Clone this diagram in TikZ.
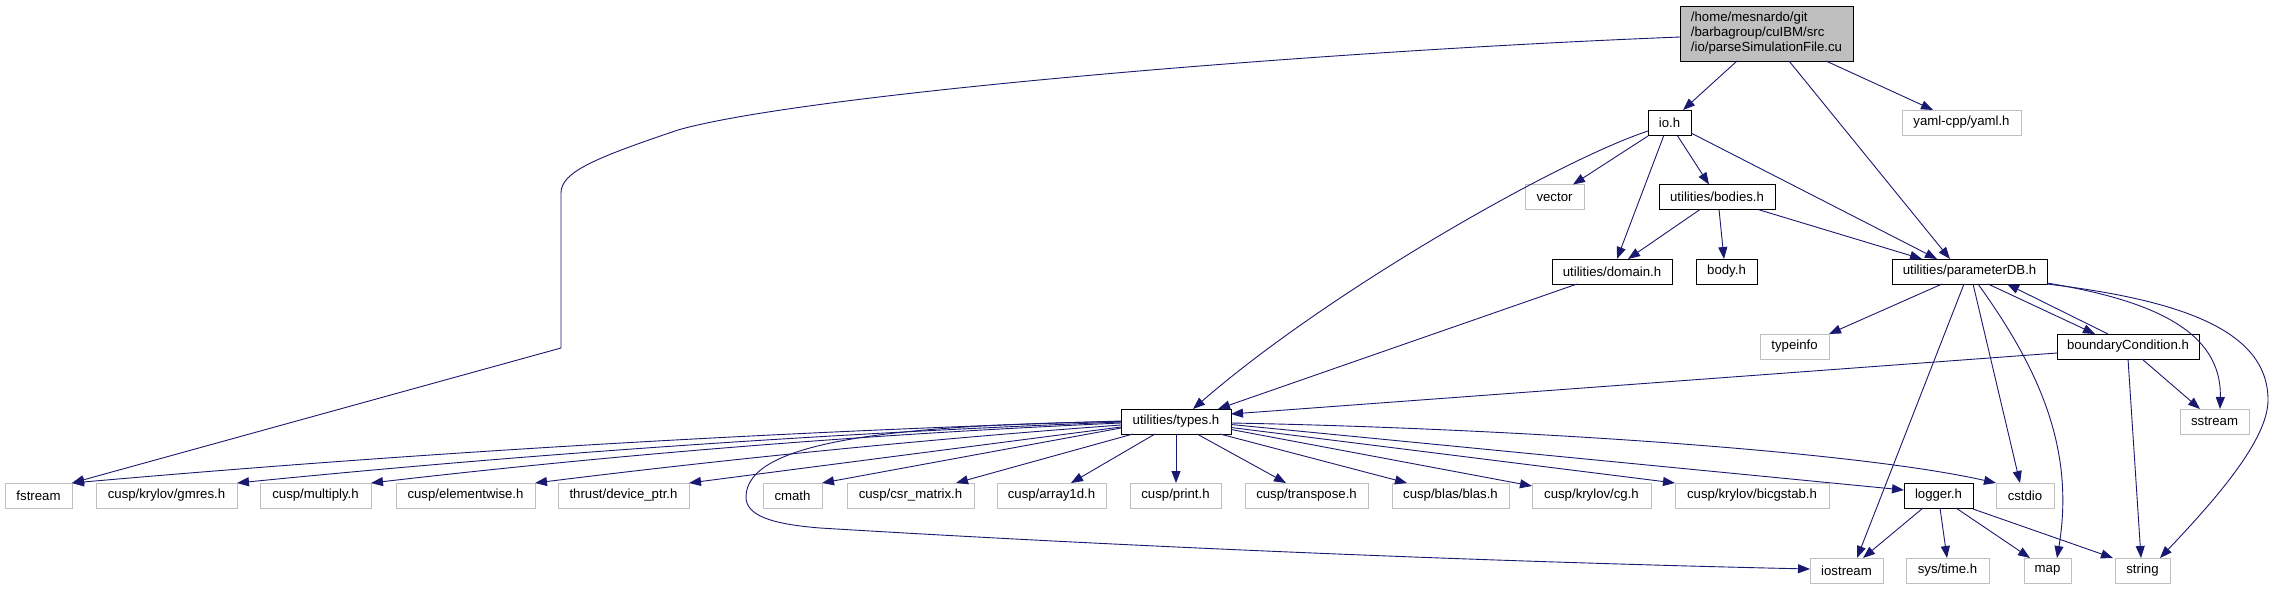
\documentclass[tikz,border=0pt]{standalone}
\usepackage{fontspec}
\setmainfont{Liberation Sans}
\usetikzlibrary{arrows.meta,calc}
\definecolor{edgeblue}{HTML}{191970}
\definecolor{lgray}{HTML}{BFBFBF}
\begin{document}
\begin{tikzpicture}[x=1pt,y=-1pt,
  doc/.style={draw=black,line width=1pt,fill=white,inner sep=0pt,outer sep=0pt,
    minimum height=25pt,font=\fontsize{13.2}{15}\selectfont},
  ext/.style={doc,draw=lgray},
  bw/.style={minimum width=#1},
  dep/.style={draw=edgeblue,line width=0.9pt,-{Triangle[length=12pt,width=9pt]}}]
\fill[white] (0,0) rectangle (2275,589);
\useasboundingbox (0,0) rectangle (2275,589);
% nodes
\node[doc,bw=173pt,minimum height=55pt,fill=lgray,align=left] (root) at (1766.5,33.5)
  {/home/mesnardo/git\\/barbagroup/cuIBM/src\\/io/parseSimulationFile.cu};
\node[doc,bw=43pt] (io) at (1669.5,122.5) {io.h};
\node[ext,bw=119pt] (yaml) at (1961.5,122.5) {yaml-cpp/yaml.h};
\node[ext,bw=59pt] (vector) at (1554.5,197) {vector};
\node[doc,bw=116pt] (bodies) at (1717,197) {utilities/bodies.h};
\node[doc,bw=120pt] (domain) at (1612,271.5) {utilities/domain.h};
\node[doc,bw=61pt] (body) at (1726.5,271.5) {body.h};
\node[doc,bw=155pt] (pdb) at (1969.5,271.5) {utilities/parameterDB.h};
\node[ext,bw=69pt] (typeinfo) at (1794.5,346.5) {typeinfo};
\node[doc,bw=142pt] (bc) at (2128,346.5) {boundaryCondition.h};
\node[doc,bw=110pt] (types) at (1176,421.5) {utilities/types.h};
\node[ext,bw=69pt] (sstream) at (2214.5,421.5) {sstream};
\node[ext,bw=67pt] (fstream) at (38.5,495.5) {fstream};
\node[ext,bw=141pt] (gmres) at (166.5,495.5) {cusp/krylov/gmres.h};
\node[ext,bw=111pt] (multiply) at (315.5,495.5) {cusp/multiply.h};
\node[ext,bw=139pt] (elementwise) at (465.5,495.5) {cusp/elementwise.h};
\node[ext,bw=131pt] (thrust) at (623.5,495.5) {thrust/device\_ptr.h};
\node[ext,bw=59pt] (cmath) at (792.5,495.5) {cmath};
\node[ext,bw=127pt] (csr) at (910.5,495.5) {cusp/csr\_matrix.h};
\node[ext,bw=109pt] (array1d) at (1051.5,495.5) {cusp/array1d.h};
\node[ext,bw=91pt] (print) at (1175.5,495.5) {cusp/print.h};
\node[ext,bw=123pt] (transpose) at (1306.5,495.5) {cusp/transpose.h};
\node[ext,bw=117pt] (blas) at (1450.5,495.5) {cusp/blas/blas.h};
\node[ext,bw=119pt] (cg) at (1591.5,495.5) {cusp/krylov/cg.h};
\node[ext,bw=154pt] (bicgstab) at (1752,495.5) {cusp/krylov/bicgstab.h};
\node[doc,bw=69pt] (logger) at (1938.5,495.5) {logger.h};
\node[ext,bw=58pt] (cstdio) at (2025,495.5) {cstdio};
\node[ext,bw=73pt] (iostream) at (1846.5,570.5) {iostream};
\node[ext,bw=83pt] (systime) at (1947.5,570.5) {sys/time.h};
\node[ext,bw=47pt] (map) at (2047.5,570.5) {map};
\node[ext,bw=55pt] (string) at (2142.5,570.5) {string};
% root edges
\draw[dep] ([xshift=-29.5pt]root.south) -- ([xshift=13.5pt]io.north);
\draw[dep] ([xshift=22.5pt]root.south) -- ([xshift=-19.5pt]pdb.north);
\draw[dep] ([xshift=59.5pt]root.south) -- ([xshift=-28.5pt]yaml.north);
\draw[dep] ([yshift=-3.5pt]root.west) .. controls (1300,52) and (800,95) .. (678,130)
  .. controls (595,158) and (561,172) .. (561,193) -- (561,348) -- (fstream.north east);
% io edges
\draw[dep] ([yshift=-1pt]io.south west) -- ([xshift=18.5pt]vector.north);
\draw[dep] ([xshift=-5.5pt]io.south) -- ([xshift=5pt]domain.north);
\draw[dep] ([xshift=7.5pt]io.south) -- ([xshift=-8pt]bodies.north);
\draw[dep] ([yshift=2pt]io.south east) -- ([xshift=-32.5pt]pdb.north);
\draw[dep] ([yshift=-8.5pt]io.west) .. controls (1560,160) and (1330,290) .. ([xshift=17pt]types.north);
% bodies edges
\draw[dep] ([xshift=-17pt]bodies.south) -- ([xshift=16pt]domain.north);
\draw[dep] ([xshift=2pt]bodies.south) -- ([xshift=-2.5pt]body.north);
\draw[dep] ([xshift=41pt]bodies.south) -- ([xshift=-47.5pt]pdb.north);
% domain edge
\draw[dep] ([xshift=-35pt]domain.south) -- ([xshift=42pt]types.north);
% parameterDB edges
\draw[dep] ([xshift=-27.5pt]pdb.south) -- (typeinfo.north east);
\draw[dep] ([xshift=18.5pt]pdb.south) -- ([xshift=-33pt]bc.north);
\draw[dep] ([xshift=-20pt]bc.north) -- ([xshift=37.5pt]pdb.south);
\draw[dep] ([xshift=-5.5pt]pdb.south) -- ([xshift=10.5pt]iostream.north);
\draw[dep] ([xshift=3.5pt]pdb.south) -- ([xshift=-5pt]cstdio.north);
\draw[dep] ([xshift=8.5pt]pdb.south) .. controls (2040,370) and (2075,450) .. ([xshift=9.5pt]map.north);
\draw[dep] ([yshift=-11.5pt]pdb.east) .. controls (2150,300) and (2222,330) .. ([xshift=5.5pt]sstream.north);
\draw[dep] (pdb.south east) .. controls (2180,300) and (2268,330) .. (2268,400)
  .. controls (2268,440) and (2215,500) .. ([xshift=17.5pt]string.north);
% boundaryCondition edges
\draw[dep] ([yshift=-6.5pt]bc.west) -- ([yshift=7.5pt]types.east);
\draw[dep] ([xshift=14pt]bc.south) -- ([xshift=-14.5pt]sstream.north);
\draw[dep] (bc.south) -- ([xshift=-1.5pt]string.north);
% logger edges
\draw[dep] ([xshift=-15.5pt]logger.south) -- ([xshift=16.5pt]iostream.north);
\draw[dep] ([xshift=1.5pt]logger.south) -- ([xshift=-0.5pt]systime.north);
\draw[dep] ([xshift=17.5pt]logger.south) -- ([xshift=-17.5pt]map.north);
\draw[dep] ([yshift=-1pt]logger.south east) -- ([xshift=-2pt]string.north west);
% types edges (below / right)
\draw[dep] ([xshift=-43pt]types.south) -- ([xshift=45.5pt]csr.north);
\draw[dep] ([xshift=-21pt]types.south) -- ([xshift=19.5pt]array1d.north);
\draw[dep] (types.south) -- (types.south |- print.north);
\draw[dep] ([xshift=21pt]types.south) -- ([xshift=-20.5pt]transpose.north);
\draw[dep] ([xshift=44pt]types.south) -- ([xshift=-43.5pt]blas.north);
\draw[dep] ([yshift=-8pt]types.east) -- ([yshift=-3pt]cg.north west);
\draw[dep] ([yshift=-6pt]types.east) -- (bicgstab.north west);
\draw[dep] ([yshift=-3pt]types.east) -- ([yshift=5.5pt]logger.west);
\draw[dep] ([yshift=-1.5pt]types.east) .. controls (1500,428) and (1850,450) .. (cstdio.north west);
% types edges (left)
\coordinate (tw1) at ([yshift=0.5pt]types.west);
\coordinate (tw2) at ([yshift=-0.5pt]types.west);
\coordinate (tw3) at ([yshift=-1.5pt]types.west);
\coordinate (tw4) at ([yshift=-3.5pt]types.west);
\coordinate (tw5) at ([yshift=-5.5pt]types.west);
\coordinate (tw6) at ([yshift=-6.5pt]types.west);
\draw[dep] (tw1) .. controls ($(tw1)!1/3!(fstream.north east)+(0,-10)$) and ($(tw1)!2/3!(fstream.north east)+(0,-10)$) .. (fstream.north east);
\draw[dep] (tw2) .. controls ($(tw2)!1/3!(gmres.north east)+(0,-9)$) and ($(tw2)!2/3!(gmres.north east)+(0,-9)$) .. (gmres.north east);
\draw[dep] (tw3) .. controls ($(tw3)!1/3!(multiply.north east)+(0,-9)$) and ($(tw3)!2/3!(multiply.north east)+(0,-9)$) .. (multiply.north east);
\draw[dep] (tw4) .. controls ($(tw4)!1/3!(elementwise.north east)+(0,-5)$) and ($(tw4)!2/3!(elementwise.north east)+(0,-5)$) .. (elementwise.north east);
\draw[dep] (tw5) -- (thrust.north east);
\draw[dep] (tw6) -- (cmath.north east);
\draw[dep] (types.west) .. controls (900,425) and (746,440) .. (746,497)
  .. controls (746,515) and (770,524) .. (820,528)
  .. controls (1150,548) and (1500,562) .. ([yshift=1.5pt]iostream.west);
\end{tikzpicture}
\end{document}
